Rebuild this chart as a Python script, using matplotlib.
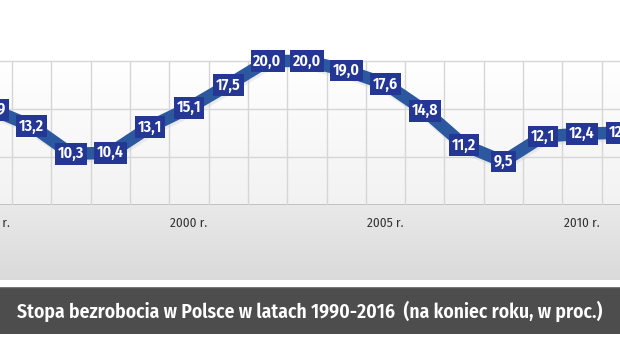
import numpy as np
import matplotlib
matplotlib.use("Agg")
import matplotlib.pyplot as plt
from matplotlib import font_manager as fm

names = {f.name for f in fm.fontManager.ttflist}
NARROW = next((n for n in ["Fira Sans Condensed", "PT Sans Narrow", "Asap Condensed",
                           "Barlow Semi Condensed", "DejaVu Sans"] if n in names))

years = [1995, 1996, 1997, 1998, 1999, 2000, 2001, 2002, 2003, 2004,
         2005, 2006, 2007, 2008, 2009, 2010, 2011]
rates = [14.9, 13.2, 10.3, 10.4, 13.1, 15.1, 17.5, 20.0, 20.0, 19.0,
         17.6, 14.8, 11.2, 9.5, 12.1, 12.4, 12.5]
tick_years = [1995, 2000, 2005, 2010]
tick_labels = ["1995 r.", "2000 r.", "2005 r.", "2010 r."]
title = "Stopa bezrobocia w Polsce w latach 1990-2016  (na koniec roku, w proc.)"

W, H = 620, 340
fig = plt.figure(figsize=(W / 100, H / 100), dpi=100)

XMIN, XMAX = 1995.19, 2010.97

def fy(px_top, px_bot):
    return (1 - px_bot / H, (px_bot - px_top) / H)

# main plot axes
b, h = fy(0, 204.5)
ax = fig.add_axes([0, b, 1, h])
ax.set_xlim(XMIN, XMAX)
ax.set_ylim(5, 26.37)
ax.axis("off")
grad = np.linspace(1.0, 0.95, 100).reshape(-1, 1)
ax.imshow(np.dstack([grad, grad, grad]), extent=[XMIN, XMAX, 5, 20],
          aspect="auto", zorder=0, origin="upper")
for yv in [10, 15, 20]:
    ax.axhline(yv, color="#d6d6d6", lw=1, zorder=1)
ax.axhline(5, color="#b5b5b5", lw=1.2, zorder=1)
for xv in np.arange(1994.5, 2012, 1.0):
    ax.vlines(xv, 5, 20, color="#d6d6d6", lw=1, zorder=1)

ax.plot(np.array(years) + 0.03, np.array(rates) - 0.3, color="#c4c7d0",
        lw=9, alpha=0.3, zorder=2, solid_joinstyle="miter")
ax.plot(years, rates, color="#2c589f", lw=9, zorder=3, solid_joinstyle="miter")
for x, v in zip(years, rates):
    ax.text(x, v, f"{v:.1f}".replace(".", ","), ha="center", va="center",
            color="white", fontsize=11.5, fontweight="semibold", family=NARROW,
            zorder=4,
            bbox=dict(boxstyle="square,pad=0.18", fc="#243795", ec="none"))

# axis band
b, h = fy(204.5, 280)
bx = fig.add_axes([0, b, 1, h])
bx.set_xlim(XMIN, XMAX)
bx.set_ylim(0, 1)
bx.axis("off")
g2 = np.linspace(0.915, 0.855, 100).reshape(-1, 1)
bx.imshow(np.dstack([g2, g2, g2]), extent=[XMIN, XMAX, 0, 1],
          aspect="auto", zorder=0, origin="upper")
for x, lab in zip(tick_years, tick_labels):
    bx.text(x, 0.75, lab, ha="center", va="center", fontsize=9.5,
            family=NARROW, color="#333333", clip_on=False)

# title bar
b, h = fy(287, 334)
tx = fig.add_axes([0, b, 1, h])
tx.set_xlim(0, 1)
tx.set_ylim(0, 1)
tx.axis("off")
tx.add_patch(plt.Rectangle((0, 0), 1, 1, fc="#4d4d4d", ec="none",
                           transform=tx.transAxes))
tx.axhline(1, color="#777777", lw=1)
t = tx.text(17 / W, 0.48, title, ha="left", va="center", color="white",
            fontsize=15, fontweight="semibold", family=NARROW)
r = fig.canvas.get_renderer()
wpx = t.get_window_extent(r).width
t.set_fontsize(15 * 587 / wpx)

fig.savefig("out.png", dpi=100)
